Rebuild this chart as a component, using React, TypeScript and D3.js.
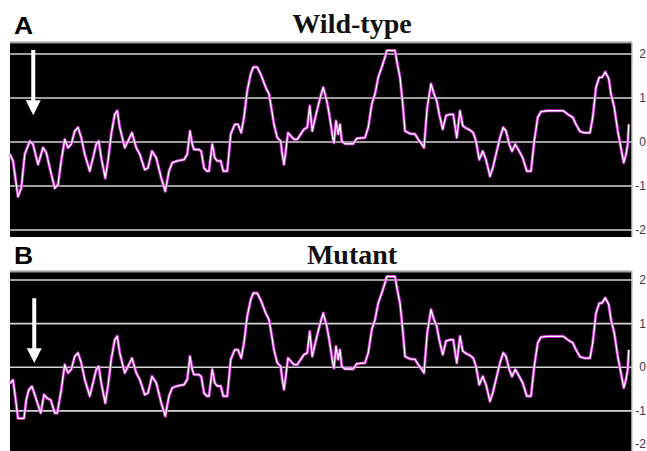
import React from "react";
import * as d3 from "d3";

// residue positions along the sequence and the hydropathy-like profile
const positions = [
  0, 1.2, 3.2, 4.5, 5.9, 7.9, 9.2, 11.2, 13.2, 14.5, 15.9, 17.9, 19.2, 20.5, 21.9, 23.2, 24.5, 25.9, 27.2, 28.5,
  29.9, 31.9, 33.2, 34.5, 35.5, 36.5, 38.1, 39.2, 40.5, 41.9, 42.9, 43.9, 45.9, 47.2, 48.8, 50.5, 51.9, 53.9, 55.2, 56.8,
  58.5, 60.5, 62.1, 63.6, 64.9, 66.9, 69.6, 70.9, 72, 72.9, 73.6, 75.6, 76.5, 77.6, 78.7, 79.6, 80.9, 81.9, 82.9, 84.3,
  85.3, 86.9, 88.3, 89.9, 91.2, 92.5, 93.6, 94.9, 96.3, 97.3, 98.9, 100.5, 102.3, 103.6, 104.5, 105.6, 106.9, 108.3, 108.9, 109.6,
  110.3, 111.2, 112.3, 113.6, 114.9, 116.3, 117.6, 118.9, 119.9, 120.9, 122.3, 123.6, 124.5, 125.3, 126.7, 127.7, 129.1, 129.6, 130.4, 131.3,
  132, 132.7, 134, 137.3, 138.7, 142, 143.3, 144.7, 146, 147.3, 148.7, 150, 150.7, 154, 154.9, 156, 157.1, 158, 160, 162,
  163.3, 164.7, 165.6, 166.9, 168.4, 169.6, 170.7, 171.7, 173.1, 174.4, 176, 177.3, 178.7, 180, 181.1, 182, 184, 185.3, 186.4, 187.7,
  189.1, 190.4, 192, 193.1, 194.4, 196, 197.3, 198.4, 199.7, 200.8, 202.1, 203.7, 205.1, 206.7, 208.4, 209.7, 211.1, 212.4, 215.1, 221.3,
  223.1, 225.1, 226.4, 228, 229.7, 232, 233.1, 234.4, 235.7, 236.8, 238.1, 239.5, 240.4, 241.7, 243.1, 244.1, 245.5, 246.4, 247.1, 247.5,
];

const wildType = [
  -0.28, -0.43, -1.24, -1.05, -0.28, 0.02, -0.05, -0.51, -0.13, -0.24, -0.59, -1.05, -0.97, -0.43, 0.06, -0.13, -0.05, 0.25, 0.33, 0.1,
  -0.28, -0.66, -0.36, -0.05, 0.02, -0.36, -0.82, -0.43, 0.18, 0.63, 0.71, 0.33, -0.13, 0.02, 0.21, -0.13, -0.28, -0.63, -0.59, -0.21,
  -0.36, -0.82, -1.12, -0.66, -0.47, -0.43, -0.4, -0.28, 0.25, -0.05, -0.17, -0.17, -0.21, -0.59, -0.66, -0.66, -0.05, -0.36, -0.43, -0.43,
  -0.66, -0.66, 0.18, 0.4, 0.4, 0.21, 0.56, 1.17, 1.55, 1.7, 1.7, 1.51, 1.24, 1.09, 0.79, 0.4, 0.1, 0.02, -0.28, -0.51,
  -0.21, 0.21, 0.14, 0.06, 0.06, 0.18, 0.29, 0.33, 0.82, 0.25, 0.6, 0.9, 1.09, 1.24, 0.94, 0.63, 0.1, -0.02, 0.48, 0.18,
  0.4, 0.02, -0.04, -0.04, 0.08, 0.1, 0.33, 0.86, 1.09, 1.47, 1.7, 1.93, 2.08, 2.08, 1.78, 1.47, 0.86, 0.25, 0.19, 0.18,
  0.06, -0.05, -0.13, 0.79, 1.32, 1.09, 0.94, 0.63, 0.29, 0.6, 0.63, 0.63, 0.1, 0.71, 0.37, 0.33, 0.27, 0.21, 0.02, -0.4,
  -0.21, -0.4, -0.78, -0.59, -0.28, 0.1, 0.33, 0.25, -0.05, -0.21, -0.05, -0.21, -0.36, -0.66, -0.66, 0.02, 0.56, 0.69, 0.71, 0.71,
  0.63, 0.56, 0.4, 0.24, 0.21, 0.21, 0.56, 1.24, 1.47, 1.47, 1.59, 1.44, 1.09, 0.79, 0.25, -0.05, -0.47, -0.28, -0.05, 0.4,
];

// the mutant differs only at the N-terminal end (marked by the arrow)
const mutantHeadPositions = [0, 1.2, 2.1, 3.2, 5.6, 6.5, 7.5, 8.8, 9.9, 11.2, 12.3, 13.6, 14.9, 16.3, 17.9, 18.9, 20.5];
const mutantHeadValues = [-0.37, -0.29, -0.67, -1.17, -1.17, -0.75, -0.52, -0.44, -0.63, -0.86, -1.05, -0.63, -0.71, -0.75, -1.05, -1.05, -0.52];

const yTicks = [2, 1, 0, -1, -2];
const titles = ["Wild-type", "Mutant"];
const letters = ["A", "B"];
const arrowResidue = [9.3, 9.7];
const arrowTop = [2.09, 1.58];
const arrowHeadBase = [0.95, 0.435];
const arrowTip = [0.61, 0.1];

const wildSeries: [number, number][] = positions.map((p, i) => [p, wildType[i]]);
const mutantSeries: [number, number][] = [
  ...mutantHeadPositions.map((p, i) => [p, mutantHeadValues[i]] as [number, number]),
  ...wildSeries.filter((d) => d[0] > mutantHeadPositions[mutantHeadPositions.length - 1]),
];

const W = 647;
const H = 451;
const LEFT = 10;
const AXIS_X = 632;

const x = d3.scaleLinear().domain([0, 248]).range([LEFT, 630]);

const panels = [
  { top: 42, bottom: 237, y: d3.scaleLinear().domain([-2, 2]).range([230, 54]), titleY: 33, letterY: 34, series: wildSeries },
  { top: 271, bottom: 453, y: d3.scaleLinear().domain([-2, 2]).range([454.5, 280]), titleY: 264, letterY: 264, series: mutantSeries },
];

const App = () => {
  return (
    <svg width={W} height={H} style={{ position: "absolute", left: 0, top: 0, background: "#fff" }}>
      {panels.map((p, i) => {
        const line = d3
          .line<[number, number]>()
          .x((d) => x(d[0]))
          .y((d) => p.y(d[1]));
        const path = line(p.series) || "";
        const ax = x(arrowResidue[i]);
        const yTop = p.y(arrowTop[i]);
        const yBase = p.y(arrowHeadBase[i]);
        const yTip = p.y(arrowTip[i]);
        const arrow = `M${ax - 2},${yTop} L${ax + 2},${yTop} L${ax + 2},${yBase} L${ax + 7.5},${yBase} L${ax},${yTip} L${ax - 7.5},${yBase} L${ax - 2},${yBase} Z`;
        return (
          <g key={i}>
            <rect x={LEFT} y={p.top} width={AXIS_X - LEFT} height={p.bottom - p.top} fill="#000" />
            <line x1={LEFT} x2={AXIS_X} y1={p.top + 0.5} y2={p.top + 0.5} stroke="#a0a0a0" strokeWidth={1.8} />
            {yTicks.map((t) => (
              <line key={t} x1={LEFT} x2={AXIS_X} y1={p.y(t)} y2={p.y(t)} stroke="#d6d6d6" strokeWidth={1.6} />
            ))}
            <path d={path} fill="none" stroke="#e030e8" strokeWidth={3.2} strokeLinejoin="round" opacity={0.85} />
            <path d={path} fill="none" stroke="#ffffff" strokeWidth={1.3} strokeLinejoin="round" />
            <path d={arrow} fill="#ffffff" />
            <line x1={AXIS_X} x2={AXIS_X} y1={p.top} y2={p.bottom} stroke="#c8c8c8" strokeWidth={1.5} />
            {yTicks.map((t) => (
              <text
                key={"l" + t}
                x={646}
                y={Math.min(p.y(t), 444)}
                textAnchor="end"
                dominantBaseline="central"
                fontFamily="Arial, 'Liberation Sans', sans-serif"
                fontSize={12}
                fill="#3a3550"
              >
                {t}
              </text>
            ))}
            <text
              x={352}
              y={p.titleY}
              textAnchor="middle"
              fontFamily="'Times New Roman', 'Liberation Serif', serif"
              fontWeight="bold"
              fontSize={28}
              fill="#111"
            >
              {titles[i]}
            </text>
            <text
              transform={`translate(14,${p.letterY}) scale(1.15,1)`}
              fontFamily="Arial, 'Liberation Sans', sans-serif"
              fontWeight="bold"
              fontSize={23}
              fill="#000"
            >
              {letters[i]}
            </text>
          </g>
        );
      })}
    </svg>
  );
};

export default App;
